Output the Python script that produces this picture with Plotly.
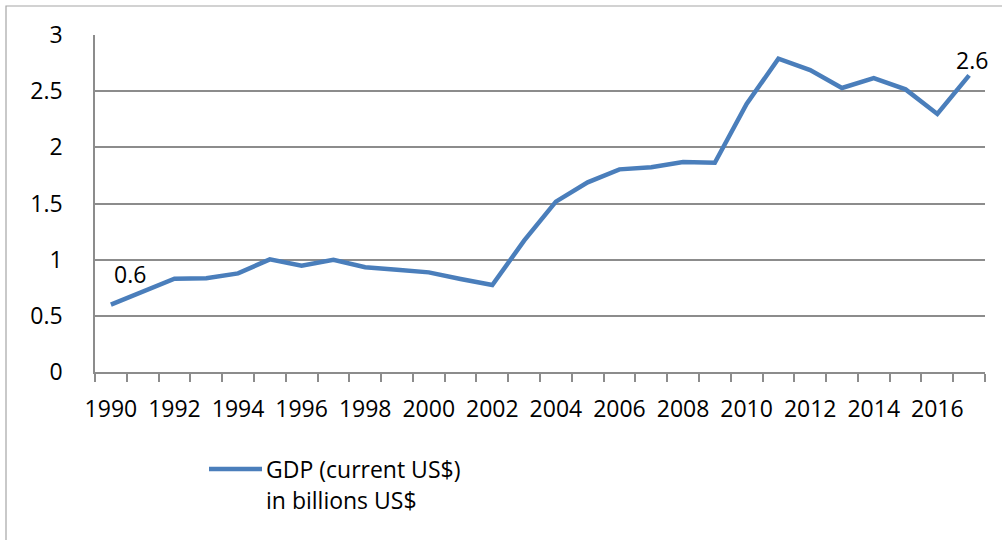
import plotly.graph_objects as go

years = list(range(1990, 2018))
gdp = [0.60, 0.71, 0.83, 0.834, 0.878, 1.003, 0.947, 0.998, 0.932, 0.911,
       0.887, 0.828, 0.774, 1.169, 1.516, 1.688, 1.804, 1.822, 1.869, 1.863,
       2.386, 2.789, 2.688, 2.528, 2.617, 2.516, 2.297, 2.641]
tick_years = list(range(1990, 2017, 2))
series_name_lines = ["GDP (current US$)", "in billions US$"]

FONT = "Open Sans"
FS = 23
GRID = "#8c8c8c"
LINE = "#4a7ebb"
W, H = 1002, 540
L, R, T, B = 95, 17, 35, 168
pw, ph = W - L - R, H - T - B

def px_x(p):
    return (p - L) / pw

def px_y(p):
    return (H - B - p) / ph

fig = go.Figure()
fig.add_trace(go.Scatter(x=years, y=gdp, mode="lines", name=" ".join(series_name_lines),
                         line=dict(color=LINE, width=4.5), showlegend=False))

# data labels for first and last points
fig.add_annotation(x=years[0], y=gdp[0], text=f"{gdp[0]:.1f}", showarrow=False,
                   xshift=19, yshift=31, font=dict(family=FONT, size=FS, color="black"))
fig.add_annotation(x=years[-1], y=gdp[-1], text=f"{gdp[-1]:.1f}", showarrow=False,
                   xshift=3, yshift=15, font=dict(family=FONT, size=FS, color="black"))

# outer chart border
fig.add_shape(type="rect", xref="paper", yref="paper", x0=px_x(6), x1=px_x(1010),
              y0=px_y(560), y1=px_y(6),
              line=dict(color="#a6a6a6", width=1.2), fillcolor="rgba(0,0,0,0)", layer="below")

# legend (manual)
fig.add_shape(type="line", xref="paper", yref="paper", x0=px_x(209), x1=px_x(262),
              y0=px_y(469), y1=px_y(469), line=dict(color=LINE, width=4.5))
for i, txt in enumerate(series_name_lines):
    fig.add_annotation(xref="paper", yref="paper", x=px_x(264), y=px_y(469 + 31 * i),
                       text=txt, showarrow=False, xanchor="left", yanchor="middle",
                       align="left", font=dict(family=FONT, size=FS, color="black"))

fig.update_layout(
    width=W, height=H,
    margin=dict(l=L, r=R, t=T, b=B, autoexpand=False),
    paper_bgcolor="white", plot_bgcolor="white",
    font=dict(family=FONT, size=FS, color="black"),
    showlegend=False,
    xaxis=dict(range=[1989.5, 2017.5], tickmode="array", tickvals=tick_years,
               ticktext=[str(y) for y in tick_years], ticks="", showgrid=False,
               showline=True, linecolor=GRID, linewidth=1.5, zeroline=False,
               tickangle=0, ticklabelstandoff=16, automargin=False,
               minor=dict(tickmode="array", tickvals=[y - 0.5 for y in years] + [2017.5],
                          ticks="outside", ticklen=8, tickcolor=GRID, tickwidth=1.5,
                          showgrid=False),
               tickfont=dict(family=FONT, size=FS, color="black")),
    yaxis=dict(range=[0, 3], tickmode="array", tickvals=[0, 0.5, 1, 1.5, 2, 2.5, 3],
               ticktext=["0", "0.5", "1", "1.5", "2", "2.5", "3"], ticks="",
               showgrid=True, gridcolor=GRID, gridwidth=1.5, zeroline=False,
               showline=True, linecolor=GRID, linewidth=1.5, ticklabelstandoff=26,
               automargin=False,
               tickfont=dict(family=FONT, size=FS, color="black")),
)

fig.write_html("out.html")
